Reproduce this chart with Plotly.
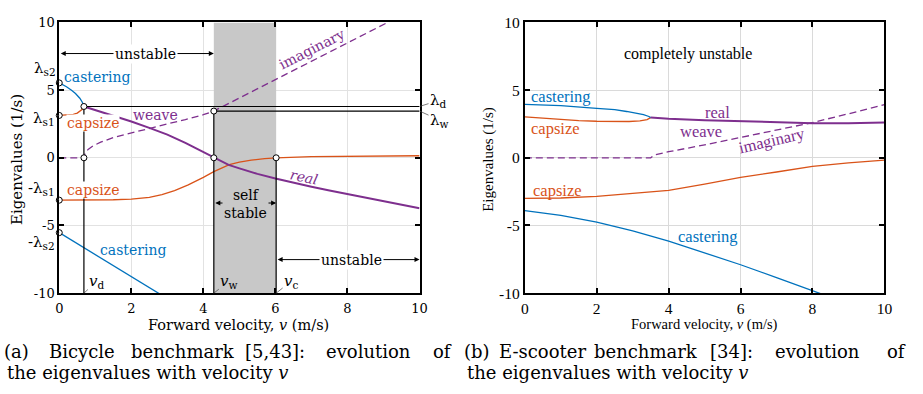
import plotly.graph_objects as go

# ---------------- data: (a) bicycle benchmark ----------------
lam_s1 = 3.13
lam_s2 = 5.53
v_d, lam_d = 0.684, 3.79
v_w, lam_w = 4.29, 3.45
v_c = 6.02

a_cast_pos_v = [0, 0.1, 0.2, 0.34, 0.45, 0.57, 0.64, 0.684]
a_cast_pos_l = [5.53, 5.42, 5.25, 4.99, 4.75, 4.4, 4.1, 3.79]
a_caps_pos_v = [0, 0.2, 0.39, 0.5, 0.58, 0.64, 0.684]
a_caps_pos_l = [3.13, 3.15, 3.2, 3.3, 3.45, 3.58, 3.79]
a_real_v = [0.684, 1, 1.5, 2, 2.5, 3, 3.5, 4, 4.29, 4.5, 4.7, 5, 5.5, 6, 6.5, 7, 7.5, 8, 8.5, 9, 9.5, 10]
a_real_l = [3.79, 3.53, 3.13, 2.68, 2.21, 1.71, 1.1, 0.41, 0, -0.28, -0.52, -0.78, -1.19, -1.53, -1.85,
            -2.14, -2.42, -2.69, -2.96, -3.22, -3.47, -3.72]
a_imag_v = [0, 0.684, 0.72, 0.8, 0.95, 1.15, 1.5, 2.0, 2.5, 3.0, 3.5, 4.0, 4.29, 5, 6, 7, 8, 9, 10]
a_imag_l = [0, 0, 0.35, 0.62, 0.9, 1.15, 1.5, 1.85, 2.17, 2.5, 2.82, 3.18, 3.45, 4.42, 5.8, 7.15, 8.5,
            9.85, 11.2]
a_caps_neg_v = [0, 0.5, 1, 1.5, 2, 2.5, 2.85, 3.2, 3.58, 3.85, 4.0, 4.29, 4.5, 4.72, 5.0, 5.33, 5.7, 6.02,
                7, 8, 9, 10]
a_caps_neg_l = [-3.13, -3.13, -3.12, -3.1, -3.05, -2.92, -2.72, -2.42, -2.0, -1.66, -1.45, -1.02, -0.74,
                -0.5, -0.32, -0.17, -0.06, 0.0, 0.08, 0.12, 0.14, 0.15]
a_cast_neg_v = [0, 1, 2, 3]
a_cast_neg_l = [-5.53, -7.15, -8.77, -10.4]

# ---------------- data: (b) e-scooter benchmark ----------------
b_cast_pos_v = [0, 1, 2, 2.5, 2.83, 3.1, 3.3, 3.45, 3.5]
b_cast_pos_l = [3.95, 3.85, 3.65, 3.55, 3.42, 3.3, 3.18, 3.05, 2.97]
b_caps_pos_v = [0, 0.5, 1, 1.5, 2, 2.5, 2.9, 3.2, 3.4, 3.5]
b_caps_pos_l = [3.02, 2.92, 2.82, 2.75, 2.7, 2.68, 2.68, 2.72, 2.82, 2.97]
b_real_v = [3.5, 4, 5, 6, 7, 8, 9, 10]
b_real_l = [2.97, 2.88, 2.78, 2.69, 2.62, 2.56, 2.56, 2.6]
b_imag_v = [0, 3.5, 3.6, 4, 5, 6, 7, 8, 9, 10]
b_imag_l = [0, 0, 0.2, 0.45, 0.95, 1.5, 2.05, 2.6, 3.25, 3.93]
b_caps_neg_v = [0, 1, 2, 3, 4, 5, 6, 7, 8, 9, 10]
b_caps_neg_l = [-3.0, -2.97, -2.85, -2.65, -2.4, -1.95, -1.45, -1.05, -0.64, -0.37, -0.17]
b_cast_neg_v = [0, 1, 2, 3, 4, 5, 6, 7, 8, 8.5]
b_cast_neg_l = [-3.9, -4.25, -4.75, -5.4, -6.15, -7.0, -7.9, -8.85, -9.8, -10.3]

x_ticks = [0, 2, 4, 6, 8, 10]
y_ticks = [-10, -5, 0, 5, 10]
y_ticktext = ["-10", "-5", "0", "5", "10"]

BLUE = "#0072BD"
ORANGE = "#D95319"
PURPLE = "#7E2F8E"
GRAY = "#c8c8c8"
CM = "DejaVu Serif"
TNR = "Liberation Serif"

fig = go.Figure()


def line(x, y, color, width=1.3, dash=None, ax="x", ay="y"):
    fig.add_trace(go.Scatter(x=x, y=y, mode="lines", xaxis=ax, yaxis=ay, hoverinfo="skip",
                             line=dict(color=color, width=width, dash=dash)))


# ---- panel (a) ----
line(a_cast_neg_v, a_cast_neg_l, BLUE)
line(a_caps_neg_v, a_caps_neg_l, ORANGE)
line(a_cast_pos_v, a_cast_pos_l, BLUE)
line(a_caps_pos_v, a_caps_pos_l, ORANGE)
line(a_imag_v, a_imag_l, PURPLE, 1.3, "7px,4px")
line(a_real_v, a_real_l, PURPLE, 2.0)
# reference lines
line([v_d, v_d], [lam_d, -10], "black", 1.2)
line([v_w, v_w], [lam_w, -10], "black", 1.2)
line([v_c, v_c], [0, -10], "black", 1.2)
line([v_d, 10], [lam_d, lam_d], "black", 1.2)
line([v_w, 10], [lam_w, lam_w], "black", 1.2)
# hollow markers
fig.add_trace(go.Scatter(
    x=[0, 0, v_d, v_d, 0, 0, v_w, v_w, v_c],
    y=[lam_s2, lam_s1, lam_d, 0, -lam_s1, -lam_s2, lam_w, 0, 0],
    mode="markers", cliponaxis=False, hoverinfo="skip",
    marker=dict(symbol="circle", size=6, color="white", line=dict(color="black", width=1))))

# ---- panel (b) ----
line(b_cast_neg_v, b_cast_neg_l, BLUE, ax="x2", ay="y2")
line(b_caps_neg_v, b_caps_neg_l, ORANGE, ax="x2", ay="y2")
line(b_caps_pos_v, b_caps_pos_l, ORANGE, ax="x2", ay="y2")
line(b_cast_pos_v, b_cast_pos_l, BLUE, ax="x2", ay="y2")
line(b_imag_v, b_imag_l, PURPLE, 1.3, "7px,4px", ax="x2", ay="y2")
line(b_real_v, b_real_l, PURPLE, 2.0, ax="x2", ay="y2")

W, H = 923, 394
ydom = [1 - 297 / H, 1 - 14 / H]
axis_common = dict(showline=True, linewidth=2, linecolor="black", mirror="ticks", ticks="inside",
                   ticklen=5, tickwidth=2, tickcolor="black", showgrid=True, gridcolor="#e2e2e2",
                   gridwidth=1, zeroline=False)

xa = dict(axis_common, domain=[56 / W, 421 / W], range=[0, 10], tickvals=x_ticks, anchor="y",
          ticklabelstandoff=2, tickfont=dict(family=CM, size=13, color="black"))
ya = dict(axis_common, domain=ydom, range=[-10, 10], tickvals=y_ticks, ticktext=y_ticktext, anchor="x",
          tickfont=dict(family=CM, size=13, color="black"))
xb = dict(axis_common, domain=[527.7 / W, 892 / W], range=[0, 10], tickvals=x_ticks, anchor="y2",
          ticklabelstandoff=0, tickfont=dict(family=TNR, size=15.5, color="black"), gridcolor="#dadada")
yb = dict(axis_common, domain=ydom, range=[-10, 10], tickvals=y_ticks, ticktext=y_ticktext, anchor="x2",
          tickfont=dict(family=TNR, size=15.5, color="black"), gridcolor="#dadada")

shapes = [dict(type="rect", xref="x", yref="y", x0=v_w, x1=v_c, y0=-10, y1=10, fillcolor=GRAY,
               line=dict(width=0), layer="between")]

ann = []


def txt(x, y, s, color="black", size=14, family=CM, xref="x", yref="y", angle=0, bg=None, **kw):
    d = dict(x=x, y=y, xref=xref, yref=yref, text=s, showarrow=False, textangle=angle,
             xanchor="center", yanchor="middle",
             font=dict(family=family, size=size, color=color))
    if bg:
        d["bgcolor"] = bg
    d.update(kw)
    ann.append(d)


def leader(x, y, s, axp, ayp, size=14):
    ann.append(dict(x=x, y=y, xref="x", yref="y", text=s, showarrow=True, arrowhead=0,
                    arrowwidth=0.7, arrowcolor="#444", ax=axp, ay=ayp,
                    font=dict(family=CM, size=size, color="black")))


def darrow(x0, x1, y, xr="x", yr="y"):
    ann.append(dict(x=x1, y=y, ax=x0, ay=y, xref=xr, yref=yr, axref=xr, ayref=yr, text="",
                    showarrow=True, arrowhead=2, arrowsize=1, arrowwidth=1, arrowcolor="black",
                    arrowside="end+start"))


# panel (a) annotations
darrow(0, v_w, 7.7)
txt(2.38, 7.7, "unstable", size=14, bg="white")
darrow(v_w, v_c, -3.34)
txt(5.17, -3.4, "self<br>stable", size=14, bg=GRAY)
darrow(v_c, 10, -7.52)
txt(8.12, -7.52, "unstable", size=14, bg="white")

txt(1.04, 5.98, "castering", BLUE)
txt(0.93, 2.58, "capsize", ORANGE, bg="white", borderpad=0)
txt(2.68, 3.15, "weave", PURPLE)
txt(7.01, 8.03, "imaginary", PURPLE, angle=-27)
txt(6.79, -1.45, "<i>real</i>", PURPLE, angle=12)
txt(0.93, -2.37, "capsize", ORANGE, bg="white", borderpad=0)
txt(2.05, -6.83, "castering", BLUE)

leader(0, lam_s2, "λ<sub>s2</sub>", -14, -14, 15)
leader(0, lam_s1, "λ<sub>s1</sub>", -15, 3, 15)
leader(0, -lam_s1, "-λ<sub>s1</sub>", -18, -12, 15)
leader(0, -lam_s2, "-λ<sub>s2</sub>", -18, 10, 15)
leader(10, lam_d, "λ<sub>d</sub>", 19, -6, 15)
leader(10, lam_w, "λ<sub>w</sub>", 20, 9, 15)
leader(v_d, -10, "<i>v</i><sub>d</sub>", 13, -12, 15)
leader(v_w, -10, "<i>v</i><sub>w</sub>", 15, -12, 15)
leader(v_c, -10, "<i>v</i><sub>c</sub>", 15, -12, 15)

# panel (b) annotations
txt(4.54, 7.66, "completely unstable", size=16, family=TNR, xref="x2", yref="y2")
txt(1.0, 4.55, "castering", BLUE, 16.5, TNR, "x2", "y2")
txt(0.86, 2.2, "capsize", ORANGE, 16.5, TNR, "x2", "y2")
txt(0.91, -2.38, "capsize", ORANGE, 16.5, TNR, "x2", "y2")
txt(4.89, 1.93, "weave", PURPLE, 16.5, TNR, "x2", "y2")
txt(5.36, 3.35, "real", PURPLE, 16.5, TNR, "x2", "y2")
txt(6.87, 1.3, "imaginary", PURPLE, 16.5, TNR, "x2", "y2", angle=-13)
txt(5.09, -5.85, "castering", BLUE, 16.5, TNR, "x2", "y2")

# axis titles
txt(238 / W, 1 - 330 / H, "Forward velocity, <i>v</i> (m/s)", size=14.5, xref="paper", yref="paper")
txt(13 / W, 1 - 157 / H, "Eigenvalues (1/s)", size=15, xref="paper", yref="paper", angle=-90)
txt(710 / W, 1 - 330 / H, "Forward velocity, <i>v</i> (m/s)", size=14.5, family=TNR, xref="paper",
    yref="paper")
txt(491 / W, 1 - 157 / H, "Eigenvalues (1/s)", size=15, family=TNR, xref="paper", yref="paper",
    angle=-90)

# captions (justified first line: one annotation per word)
cap_a1 = ["(a)", "Bicycle", "benchmark", "[5,43]:", "evolution", "of"]
cap_a1_c = [12.5, 79, 181, 275, 369, 444]
cap_b1 = ["(b)", "E-scooter", "benchmark", "[34]:", "evolution", "of"]
cap_b1_c = [479.5, 546, 650, 737, 824, 904]
for w, c in zip(cap_a1, cap_a1_c):
    txt(c / W, 1 - 358 / H, w, size=18, xref="paper", yref="paper")
for w, c in zip(cap_b1, cap_b1_c):
    txt(c / W, 1 - 358 / H, w, size=18, xref="paper", yref="paper")
txt(1 / W, 1 - 380 / H, "the eigenvalues with velocity <i>v</i>", size=18, xref="paper", yref="paper",
    xanchor="left")
txt(467 / W, 1 - 380 / H, "the eigenvalues with velocity <i>v</i>", size=18, xref="paper",
    yref="paper", xanchor="left")

fig.update_layout(width=W, height=H, margin=dict(l=0, r=0, t=0, b=0), autosize=False,
                  paper_bgcolor="white", plot_bgcolor="white", showlegend=False,
                  xaxis=xa, yaxis=ya, xaxis2=xb, yaxis2=yb, shapes=shapes, annotations=ann)

fig.write_html("out.html")
